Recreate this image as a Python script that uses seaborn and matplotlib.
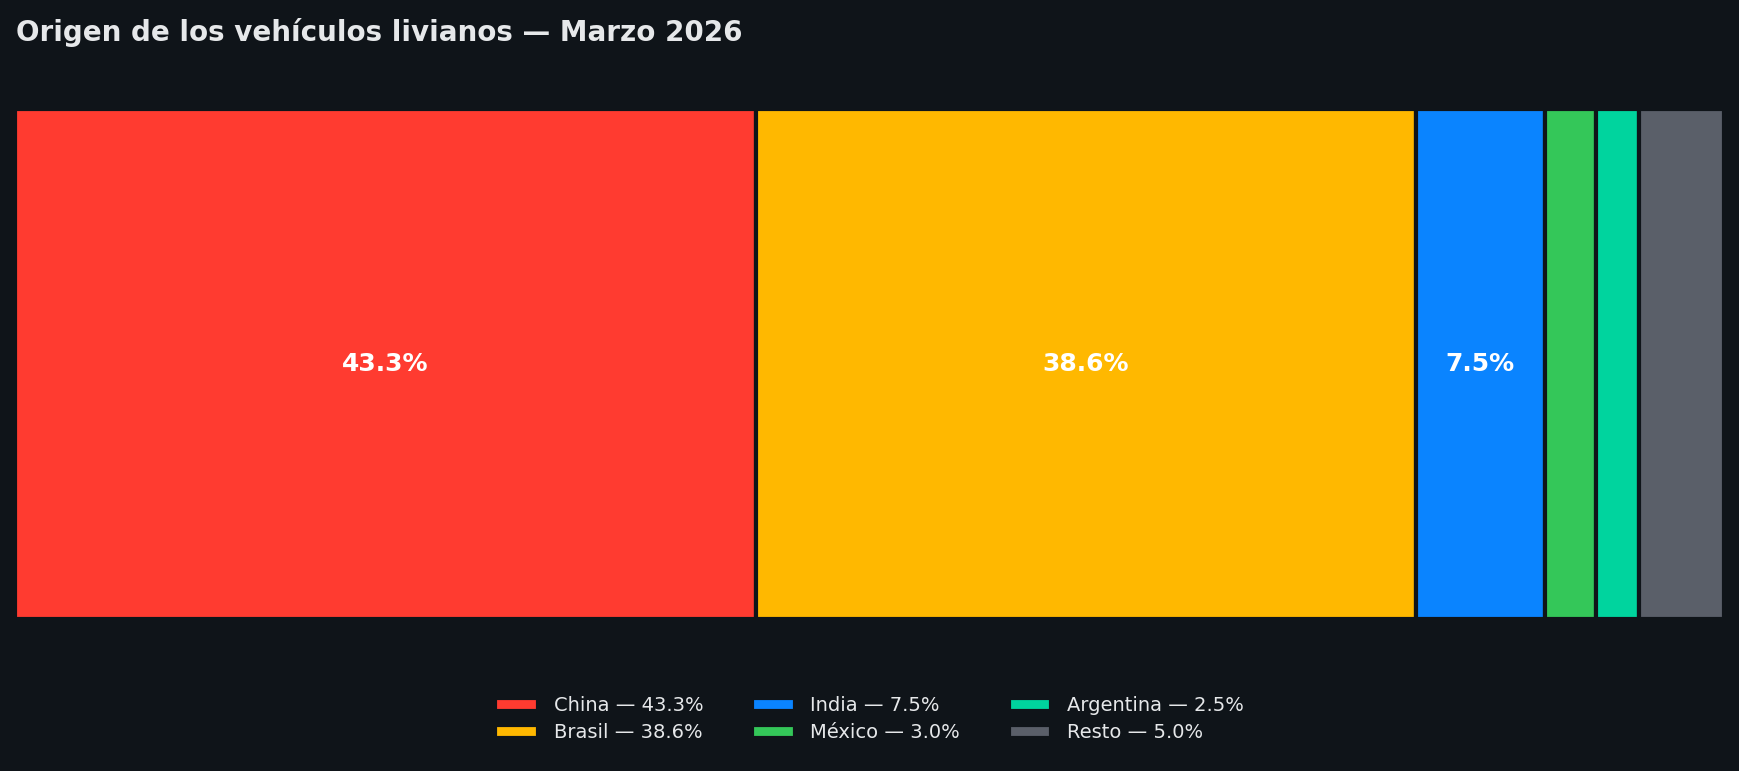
import matplotlib
matplotlib.use("Agg")
import matplotlib.pyplot as plt
import seaborn as sns
import pandas as pd

paises = ["China", "Brasil", "India", "México", "Argentina", "Resto"]
valores = [43.3, 38.6, 7.5, 3.0, 2.5, 5.0]
colores = ["#FF3B30", "#FFB800", "#0A84FF", "#34C759", "#00D49E", "#5A5F69"]
BG = "#0F1419"

sns.set_theme(style="dark")
plt.rcParams['font.family'] = ['DejaVu Sans']
fig = plt.figure(figsize=(17.39, 7.71), dpi=100, facecolor=BG)
ax = fig.add_axes([0.0085, 0.197, 0.983, 0.662])
ax.set_facecolor(BG)

left = 0.0
for p, v, c in zip(paises, valores, colores):
    ax.barh([0], [v], left=left, color=c, edgecolor=BG, linewidth=3,
            height=1.0, label=f"{p} — {v:.1f}%")
    if v > 5:
        ax.text(left + v / 2, 0, f"{v:.1f}%", ha="center", va="center",
                color="white", fontsize=18, fontweight="bold")
    left += v

ax.set_xlim(0, left)
ax.set_ylim(-0.5, 0.5)
ax.axis("off")

fig.text(0.009, 0.958, "Origen de los vehículos livianos — Marzo 2026",
         color="#E6E8EA", fontsize=20, fontweight="bold", va="center", ha="left")

leg = fig.legend(loc="center", bbox_to_anchor=(0.5, 0.067), ncol=3, frameon=False,
                 fontsize=14, labelcolor="#E6E8EA", handlelength=2.2,
                 columnspacing=2.5, handleheight=0.6, labelspacing=0.4)
fig.savefig("out.png", dpi=100, facecolor=BG)
